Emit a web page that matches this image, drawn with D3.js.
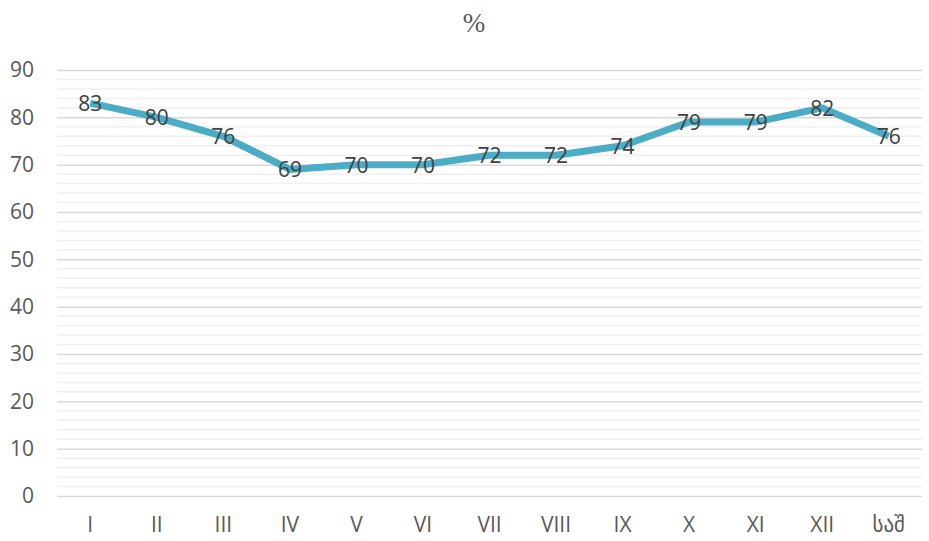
<!DOCTYPE html>
<html><head><meta charset="utf-8">
<script src="https://cdn.jsdelivr.net/npm/d3@7"></script>
<style>body{margin:0;background:#fff}</style>
</head><body><svg id="c" width="929" height="541"></svg>
<script>
const categories = ["I","II","III","IV","V","VI","VII","VIII","IX","X","XI","XII","საშ"];
const values = [83,80,76,69,70,70,72,72,74,79,79,82,76];
const yTicks = [0,10,20,30,40,50,60,70,80,90];
const title = "%";

const svg = d3.select("#c");
const W = 929, H = 541;
const m = {left:57, right:7, top:70, bottom:45};
const x = d3.scaleBand().domain(categories).range([m.left, W - m.right]);
const y = d3.scaleLinear().domain([0,90]).range([H - m.bottom, m.top]);
const font = "'Open Sans','DejaVu Sans',sans-serif";

svg.append("text").attr("x", 474).attr("y", 23).attr("text-anchor","middle")
  .attr("dominant-baseline","central").attr("font-family","'Liberation Serif','DejaVu Serif',serif")
  .attr("font-size",27).attr("fill","#595959").text(title);

// minor grid
const minor = d3.range(0, 91, 2).filter(v => v % 10 !== 0);
svg.append("g").selectAll("line").data(minor).join("line")
  .attr("x1", m.left).attr("x2", W - m.right)
  .attr("y1", d => y(d)).attr("y2", d => y(d))
  .attr("stroke","#f0f0f0").attr("stroke-width",1.5);

// major grid via axis
const gy = svg.append("g").attr("transform",`translate(${m.left},0)`)
  .call(d3.axisLeft(y).tickValues(yTicks).tickSize(-(W - m.left - m.right)).tickPadding(23));
gy.select(".domain").remove();
gy.selectAll(".tick line").attr("stroke","#d9d9d9").attr("stroke-width",1.5);
gy.selectAll(".tick text").attr("font-family",font).attr("font-size",21).attr("fill","#595959");

const gx = svg.append("g").attr("transform",`translate(0,${H - m.bottom})`)
  .call(d3.axisBottom(x).tickSize(0).tickPadding(21));
gx.select(".domain").remove();
gx.selectAll(".tick text").attr("font-family",font).attr("font-size",21).attr("fill","#595959");

const cx = d => x(d) + x.bandwidth()/2;
const line = d3.line().x((d,i) => cx(categories[i])).y(d => y(d));
svg.append("path").datum(values).attr("d", line).attr("fill","none")
  .attr("stroke","#4bacc6").attr("stroke-width",7).attr("stroke-linejoin","round");

svg.append("g").selectAll("text").data(values).join("text")
  .attr("x", (d,i) => cx(categories[i])).attr("y", d => y(d))
  .attr("text-anchor","middle").attr("dominant-baseline","central")
  .attr("font-family",font).attr("font-size",21).attr("fill","#404040")
  .text(d => d);
</script></body></html>
